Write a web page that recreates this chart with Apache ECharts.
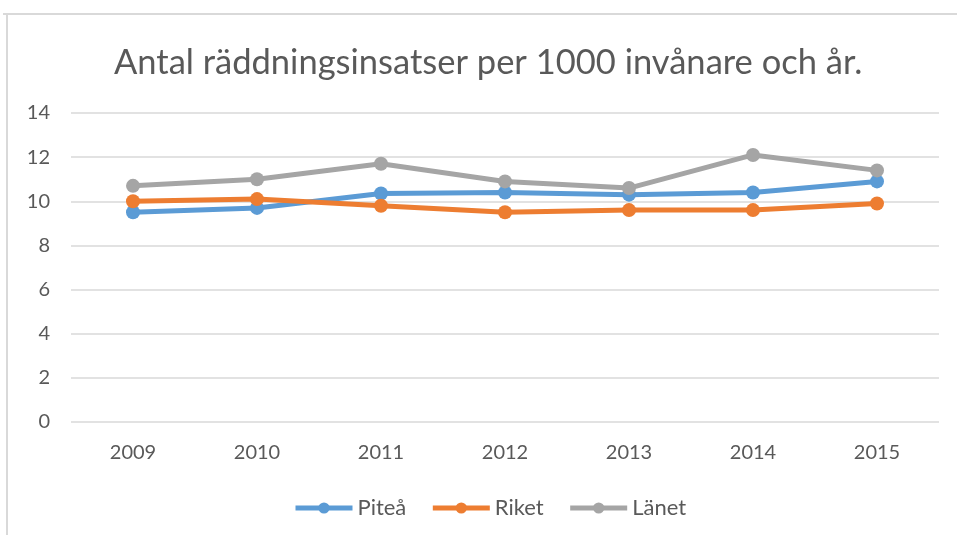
<!DOCTYPE html>
<html lang="sv">
<head>
    <meta charset="utf-8">
    <title>Räddningsinsatser</title>
    <script src="https://cdn.jsdelivr.net/npm/echarts@6/dist/echarts.min.js"></script>
    <style>
        html, body { margin: 0; padding: 0; background: #fff; }
    </style>
</head>
<body>
    <div id="main" style="width: 957px;height:535px;"></div>
    <script type="text/javascript">
        // data
        var years = ['2009', '2010', '2011', '2012', '2013', '2014', '2015'];
        var pitea = [9.5, 9.7, 10.35, 10.4, 10.3, 10.4, 10.9];
        var riket = [10.0, 10.1, 9.8, 9.5, 9.6, 9.6, 9.9];
        var lanet = [10.7, 11.0, 11.7, 10.9, 10.6, 12.1, 11.4];

        var textColor = '#595959';
        var font = 'Lato, "Liberation Sans", sans-serif';

        var myChart = echarts.init(document.getElementById('main'));

        function lineSeries(name, data, color) {
            return {
                name: name,
                type: 'line',
                data: data,
                symbol: 'circle',
                symbolSize: 14,
                lineStyle: { width: 5, color: color },
                itemStyle: { color: color },
                emphasis: { disabled: true }
            };
        }

        var option = {
            animation: false,
            textStyle: { fontFamily: font },
            title: {
                text: 'Antal räddningsinsatser per 1000 invånare och år.',
                left: 109,
                top: 40,
                textStyle: { fontSize: 34.5, fontWeight: 'normal', color: textColor, fontFamily: font }
            },
            legend: {
                bottom: 11,
                left: 288,
                itemWidth: 57,
                itemHeight: 14,
                itemGap: 24,
                lineStyle: { width: 5 },
                textStyle: { fontSize: 22, color: textColor, fontFamily: font },
                data: ['Piteå', 'Riket', 'Länet']
            },
            grid: { left: 71, right: 18, top: 113, bottom: 113 },
            xAxis: {
                type: 'category',
                data: years,
                boundaryGap: true,
                axisLine: { show: false },
                axisTick: { show: false },
                axisLabel: { fontSize: 20, color: textColor, margin: 21 }
            },
            yAxis: {
                type: 'value',
                min: 0,
                max: 14,
                interval: 2,
                axisLine: { show: false },
                axisTick: { show: false },
                axisLabel: { fontSize: 20, color: textColor, margin: 21 },
                splitLine: { lineStyle: { color: '#D9D9D9', width: 1.5 } }
            },
            graphic: [
                { type: 'line', shape: { x1: 3, y1: 14, x2: 957, y2: 14 }, style: { stroke: '#D9D9D9', lineWidth: 2 } },
                { type: 'line', shape: { x1: 7, y1: 14, x2: 7, y2: 535 }, style: { stroke: '#D9D9D9', lineWidth: 2 } }
            ],
            series: [
                lineSeries('Piteå', pitea, '#5B9BD5'),
                lineSeries('Riket', riket, '#ED7D31'),
                lineSeries('Länet', lanet, '#A5A5A5')
            ]
        };

        myChart.setOption(option);
    </script>
</body>
</html>
